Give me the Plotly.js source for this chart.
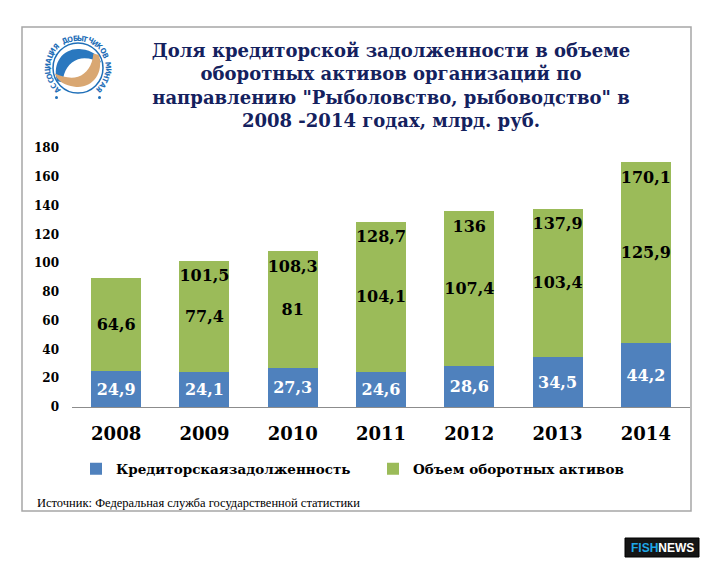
<!DOCTYPE html>
<html>
<head>
<meta charset="utf-8">
<script src="https://cdn.plot.ly/plotly-3.0.1.min.js"></script>
<style>html,body{margin:0;padding:0;background:#fff;}#chart{width:709px;height:567px;}</style>
</head>
<body>
<div id="chart"></div>
<script>
// ---- data ----
const years = ['2008', '2009', '2010', '2011', '2012', '2013', '2014'];
const debt = [24.9, 24.1, 27.3, 24.6, 28.6, 34.5, 44.2];          // Кредиторская задолженность
const assets = [64.6, 77.4, 81, 104.1, 107.4, 103.4, 125.9];      // Объем оборотных активов
const totals = [null, 101.5, 108.3, 128.7, 136, 137.9, 170.1];    // подписи итогов
const yTicks = [0, 20, 40, 60, 80, 100, 120, 140, 160, 180];
const seriesNames = ['Кредиторскаязадолженность', 'Объем оборотных активов'];
const titleLines = [
  'Доля кредиторской задолженности в объеме',
  'оборотных активов организаций по',
  'направлению "Рыболовство, рыбоводство" в',
  '2008 -2014 годах, млрд. руб.'
];
const sourceText = 'Источник: Федеральная служба государственной статистики';
const logoText = 'АССОЦИАЦИЯ ДОБЫТЧИКОВ МИНТАЯ';

const fmt = v => (v === null ? '' : String(v).replace('.', ','));

// ---- geometry helpers (pixel -> paper) ----
const L = 72, R = 690, T = 148, B = 407;
const px = x => (x - L) / (R - L);
const py = y => (B - y) / (B - T);
const P = (x, y) => px(x) + ',' + py(y);

const serifB = 'DejaVu Serif';
const blue = '#4F81BD', green = '#9BBB59', navy = '#14215e', logoBlue = '#1f6fb8';

const labelFont = c => ({family: serifB, size: 16, color: c, weight: 'bold'});

const traces = [
  {
    type: 'bar', x: years, y: debt, name: seriesNames[0],
    marker: {color: blue},
    text: debt.map(fmt), textposition: 'inside', insidetextanchor: 'middle', textangle: 0,
    constraintext: 'none', cliponaxis: false,
    textfont: labelFont('#ffffff'), insidetextfont: labelFont('#ffffff'),
    hoverinfo: 'skip'
  },
  {
    type: 'bar', x: years, y: assets, name: seriesNames[1],
    marker: {color: green},
    text: assets.map(fmt), textposition: 'inside', insidetextanchor: 'middle', textangle: 0,
    constraintext: 'none', cliponaxis: false,
    textfont: labelFont('#000000'), insidetextfont: labelFont('#000000'),
    hoverinfo: 'skip'
  },
  {
    type: 'scatter', mode: 'markers+text', x: years, y: totals,
    marker: {size: 12, color: 'rgba(0,0,0,0)'},
    text: totals.map(fmt), textposition: 'bottom center',
    textfont: labelFont('#000000'),
    showlegend: false, hoverinfo: 'skip', cliponaxis: false
  }
];

// logo geometry
const cx = 78, cy = 68, s = 1.1;
const Q = (dx, dy) => P(cx + s * dx, cy + s * dy);
const fishPts = [[-19, 12], [-24, -6], [-12, -19], [3, -17], [13, -16], [19, -11], [21, -5],
                 [14, -8], [7, -10], [0, -8], [-8, -5], [-13, 2], [-14, 13]];
const fishPath = sgn => {
  const p = fishPts.map(([a, b]) => Q(sgn * a, sgn * b));
  return 'M' + p[0] + ' C' + p[1] + ' ' + p[2] + ' ' + p[3] + ' C' + p[4] + ' ' + p[5] + ' ' + p[6] +
         ' C' + p[7] + ' ' + p[8] + ' ' + p[9] + ' C' + p[10] + ' ' + p[11] + ' ' + p[12] + ' Z';
};

const shapes = [
  // outer frame
  {type: 'rect', xref: 'paper', yref: 'paper', x0: px(22), x1: px(691), y0: py(511), y1: py(27),
   line: {color: '#A6A6A6', width: 1.5}, fillcolor: 'rgba(0,0,0,0)', layer: 'below'},
  // logo ring
  {type: 'circle', xref: 'paper', yref: 'paper', x0: px(cx - 25), x1: px(cx + 25), y0: py(cy + 25), y1: py(cy - 25),
   line: {color: logoBlue, width: 1.5}},
  {type: 'path', xref: 'paper', yref: 'paper', fillcolor: '#2a78bf', line: {width: 0}, path: fishPath(1)},
  {type: 'path', xref: 'paper', yref: 'paper', fillcolor: '#d9a772', line: {width: 0}, path: fishPath(-1)},
  // logo dots
  {type: 'circle', xref: 'paper', yref: 'paper', x0: px(55), x1: px(58), y0: py(99), y1: py(96), fillcolor: logoBlue, line: {width: 0}},
  {type: 'circle', xref: 'paper', yref: 'paper', x0: px(98), x1: px(101), y0: py(99), y1: py(96), fillcolor: logoBlue, line: {width: 0}},
  // FISHNEWS badge
  {type: 'rect', xref: 'paper', yref: 'paper', x0: px(625), x1: px(699), y0: py(557), y1: py(538),
   fillcolor: '#151515', line: {color: '#000', width: 1}}
];

const annotations = [
  {xref: 'paper', yref: 'paper', x: px(35), y: py(503), xanchor: 'left', yanchor: 'middle', showarrow: false,
   text: sourceText, font: {family: 'Liberation Serif', size: 12.5, color: '#000'}},
  {xref: 'paper', yref: 'paper', x: px(662), y: py(547.5), xanchor: 'center', yanchor: 'middle', showarrow: false,
   text: '<b><span style="color:#1ea7e8">FISH</span>NEWS</b>', font: {family: 'Liberation Sans', size: 12, color: '#ffffff'}}
];

// logo ring text
const rr = 30;
const chars = Array.from(logoText);
const a0 = 226, a1 = -46;
chars.forEach((ch, i) => {
  const a = a0 + (a1 - a0) * i / (chars.length - 1);
  const rad = a * Math.PI / 180;
  annotations.push({
    xref: 'paper', yref: 'paper', x: px(cx + rr * Math.cos(rad)), y: py(cy - rr * Math.sin(rad)),
    xanchor: 'center', yanchor: 'middle', showarrow: false, text: '<b>' + ch + '</b>', textangle: 90 - a,
    font: {family: 'DejaVu Sans Condensed', size: 7.5, color: logoBlue}
  });
});

const layout = {
  width: 709, height: 567,
  margin: {l: L, r: 709 - R, t: T, b: 567 - B, pad: 0},
  paper_bgcolor: '#ffffff', plot_bgcolor: '#ffffff',
  barmode: 'stack', bargap: 0.435,
  showlegend: true,
  title: {
    text: '<b>' + titleLines.join('<br>') + '</b>',
    font: {family: serifB, size: 18, color: navy},
    xref: 'paper', x: px(391), xanchor: 'center',
    yref: 'container', y: 1 - 57 / 567, yanchor: 'middle'
  },
  xaxis: {
    type: 'category', showgrid: false, zeroline: false,
    showline: true, linecolor: '#8c8c8c', linewidth: 1,
    ticks: '', ticklabelstandoff: 10,
    tickfont: {family: serifB, size: 18, color: '#000', weight: 'bold'},
    fixedrange: true
  },
  yaxis: {
    range: [0, 180], tickvals: yTicks, showgrid: false, zeroline: false, showline: false,
    ticks: '', ticklabelstandoff: 12,
    tickfont: {family: serifB, size: 12, color: '#000', weight: 'bold'},
    fixedrange: true
  },
  legend: {
    orientation: 'h', x: px(76), xanchor: 'left', y: py(469), yanchor: 'middle',
    font: {family: serifB, size: 13.5, color: '#000', weight: 'bold'},
    itemwidth: 30, entrywidthmode: 'pixels', entrywidth: 252,
    bgcolor: 'rgba(0,0,0,0)', traceorder: 'normal'
  },
  shapes: shapes,
  annotations: annotations
};

Plotly.newPlot('chart', traces, layout, {displayModeBar: false, staticPlot: true});
</script>
</body>
</html>
